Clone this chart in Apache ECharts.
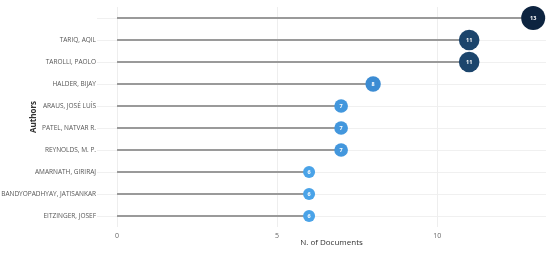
<!DOCTYPE html>
<html><head><meta charset="utf-8">
<script src="https://cdn.jsdelivr.net/npm/echarts@6/dist/echarts.min.js"></script>
<style>html,body{margin:0;padding:0;background:#fff}#c{width:550px;height:254px}</style>
</head><body><div id="c"></div>
<script>
const authors = ["", "TARIQ, AQIL", "TAROLLI, PAOLO", "HALDER, BIJAY", "ARAUS, JOSÉ LUÍS", "PATEL, NATVAR R.", "REYNOLDS, M. P.", "AMARNATH, GIRIRAJ", "BANDYOPADHYAY, JATISANKAR", "EITZINGER, JOSEF"];
const documents = [13, 11, 11, 8, 7, 7, 7, 6, 6, 6];
const xTicks = [0, 5, 10];

const chart = echarts.init(document.getElementById('c'), null, {renderer: 'canvas'});
const font = '"Open Sans", sans-serif';
chart.setOption({
  animation: false,
  textStyle: {fontFamily: font},
  grid: {left: 117, right: 4, top: 7, bottom: 27, containLabel: false, outerBoundsMode: 'none'},
  xAxis: {
    type: 'value', min: 0, max: 13.4, interval: 5,
    axisLine: {show: false}, axisTick: {show: false},
    axisLabel: {fontSize: 7, color: '#666', margin: 5, fontFamily: font, showMaxLabel: false,
      formatter: v => xTicks.includes(v) ? String(v) : ''},
    splitLine: {showMaxLine: false, lineStyle: {color: '#eeeeee', width: 1}},
    name: 'N. of Documents', nameLocation: 'middle', nameGap: 12, nameMoveOverlap: false,
    nameTextStyle: {fontSize: 8, color: '#333', fontFamily: font}
  },
  yAxis: {
    type: 'category', data: authors, inverse: true,
    axisLine: {show: false},
    axisTick: {show: true, alignWithLabel: true, length: 20, lineStyle: {color: '#f0f0f0'}},
    axisLabel: {fontSize: 6.5, color: '#555', margin: 21, fontFamily: font},
    splitLine: {show: true, alignWithLabel: true, lineStyle: {color: '#f0f0f0'}},
    name: 'Authors', nameLocation: 'middle', nameGap: 79, nameRotate: 90, nameMoveOverlap: false,
    nameTextStyle: {fontSize: 8, color: '#333', fontWeight: 'bold', fontFamily: font}
  },
  visualMap: {
    show: false, type: 'continuous', seriesIndex: 1, dimension: 0,
    min: 6, max: 13,
    inRange: {color: ['#4aa3e8', '#3a88cf', '#1e4a73', '#0d2440']}
  },
  series: [
    {
      type: 'bar', data: documents, barWidth: 2,
      itemStyle: {color: '#9a9a9a'}, z: 2, silent: true
    },
    {
      type: 'scatter', data: documents.map((v, i) => [v, i]),
      symbolSize: d => 12 + (d[0] - 6) * 12 / 7,
      itemStyle: {opacity: 1},
      z: 3, clip: false,
      label: {show: true, position: 'inside', color: '#fff', fontSize: 5.5, fontWeight: 'bold',
        fontFamily: font, formatter: p => String(p.value[0])}
    }
  ]
});
</script></body></html>
